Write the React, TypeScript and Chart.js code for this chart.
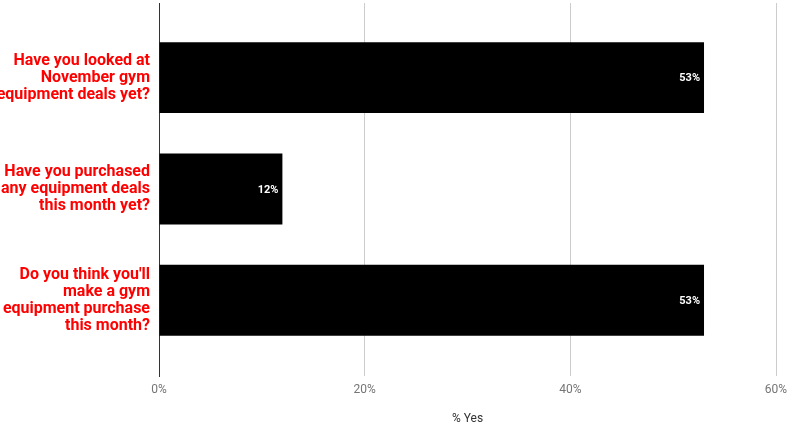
import React, { useEffect, useRef } from "react";
import { Chart, registerables } from "chart.js";

Chart.register(...registerables);

const categories: string[][] = [
  ["Have you looked at", "November gym", "equipment deals yet?"],
  ["Have you purchased", "any equipment deals", "this month yet?"],
  ["Do you think you'll", "make a gym", "equipment purchase", "this month?"],
];
const yesValues: number[] = [53, 12, 53];
const xTickValues: number[] = [0, 20, 40, 60];
const xAxisTitle = "% Yes";

const barLabelPlugin = {
  id: "barLabels",
  afterDatasetsDraw(chart: any) {
    const ctx = chart.ctx;
    const meta = chart.getDatasetMeta(0);
    ctx.save();
    ctx.fillStyle = "#ffffff";
    ctx.font = "bold 11px Roboto";
    ctx.textAlign = "right";
    ctx.textBaseline = "middle";
    meta.data.forEach((el: any, i: number) => {
      ctx.fillText(yesValues[i] + "%", el.x - 4, el.y + 1);
    });
    ctx.restore();
  },
};

export default function App() {
  const ref = useRef<HTMLCanvasElement>(null);
  useEffect(() => {
    document.body.style.margin = "0";
    const chart = new Chart(ref.current!, {
      type: "bar",
      data: {
        datasets: [
          {
            data: yesValues.map((v, i) => ({ x: v, y: i })),
            backgroundColor: "#000000",
            borderWidth: 0,
            barPercentage: 0.637,
            categoryPercentage: 1,
          },
        ],
      },
      options: {
        animation: false,
        responsive: false,
        indexAxis: "y",
        layout: { padding: { top: 3, right: 20, left: 0, bottom: 0 } },
        plugins: { legend: { display: false }, tooltip: { enabled: false } },
        scales: {
          y: {
            type: "linear",
            reverse: true,
            offset: false,
            min: -0.67,
            max: 2.68,
            afterBuildTicks: (s: any) => {
              s.ticks = categories.map((_, i) => ({ value: i }));
            },
            afterFit: (s: any) => {
              s.width = 159;
              s.paddingTop = 0;
              s.paddingBottom = 0;
            },
            grid: { display: false, drawTicks: false, offset: false },
            border: { display: true, color: "#333333", width: 1 },
            ticks: {
              padding: 9,
              color: "#ff0000",
              font: { family: "Roboto", size: 16, weight: "bold", lineHeight: 1.0625 },
              callback: (v: any) => categories[v] ?? "",
            },
          },
          x: {
            type: "linear",
            min: 0,
            max: 60,
            afterBuildTicks: (s: any) => {
              s.ticks = xTickValues.map((v) => ({ value: v }));
            },
            afterFit: (s: any) => {
              s.height = 54;
            },
            grid: { color: "#cccccc", drawTicks: false },
            border: { display: false },
            ticks: {
              padding: 7,
              color: "#757575",
              font: { family: "Roboto", size: 12 },
              callback: (v: any) => v + "%",
            },
            title: {
              display: true,
              text: xAxisTitle,
              color: "#333333",
              font: { family: "Roboto", size: 12 },
              padding: { top: 14 },
            },
          },
        },
      },
      plugins: [barLabelPlugin],
    } as any);
    return () => chart.destroy();
  }, []);
  return (
    <div style={{ width: 796, height: 430 }}>
      <canvas ref={ref} width={796} height={430} />
    </div>
  );
}
